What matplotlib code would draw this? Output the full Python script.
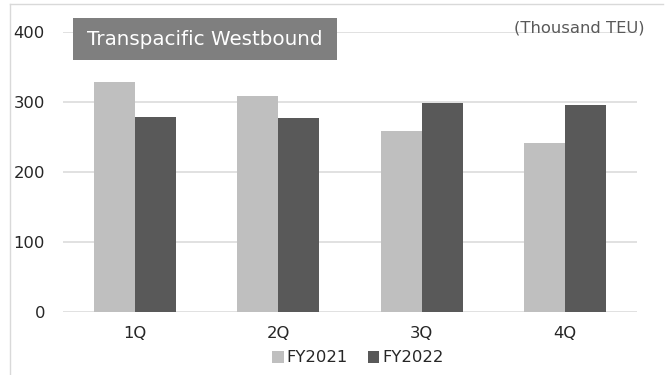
import matplotlib
matplotlib.use("Agg")
import matplotlib.pyplot as plt
from matplotlib.patches import Rectangle, Patch
from matplotlib.lines import Line2D
import numpy as np

categories = ["1Q", "2Q", "3Q", "4Q"]
fy2021 = [328, 309, 258, 241]
fy2022 = [278, 277, 298, 295]
series_labels = ["FY2021", "FY2022"]
yticks = [0, 100, 200, 300, 400]

W, H = 667, 375
fig = plt.figure(figsize=(W / 100, H / 100), dpi=100)
fig.patch.set_facecolor("white")

# plot area in pixel coordinates
x0, x1 = 63, 637
y_bottom, y_top = 311.7, 32
ax = fig.add_axes([x0 / W, 1 - y_bottom / H, (x1 - x0) / W, (y_bottom - y_top) / H])

c21, c22 = "#BFBFBF", "#595959"
grid_c = "#D9D9D9"
x = np.arange(len(categories))
bw = 0.286

ax.set_xlim(-0.5, len(categories) - 0.5)
ax.set_ylim(0, 400)
for t in yticks:
    ax.axhline(t, color=grid_c, lw=1.1, zorder=0)

ax.bar(x - bw / 2, fy2021, width=bw, color=c21, zorder=2)
ax.bar(x + bw / 2, fy2022, width=bw, color=c22, zorder=2)

for s in ax.spines.values():
    s.set_visible(False)
ax.set_yticks(yticks)
ax.set_xticks(x)
ax.set_xticklabels(categories)
ax.tick_params(axis="y", length=0, pad=13, labelsize=11.8, labelcolor="#262626")
ax.tick_params(axis="x", length=0, pad=10, labelsize=11.8, labelcolor="#262626")

# chart frame (top and left edges)
fig.add_artist(Line2D([10 / W, 663 / W], [1 - 4 / H, 1 - 4 / H], transform=fig.transFigure,
                      color="#D9D9D9", lw=1))
fig.add_artist(Line2D([10 / W, 10 / W], [1 - 4 / H, 0], transform=fig.transFigure,
                      color="#D9D9D9", lw=1))

# title box
bx0, bx1, by0, by1 = 72.7, 336.7, 18.3, 60
fig.add_artist(Rectangle((bx0 / W, 1 - by1 / H), (bx1 - bx0) / W, (by1 - by0) / H,
                         transform=fig.transFigure, facecolor="#7F7F7F", edgecolor="none", zorder=5))
fig.text((bx0 + bx1) / 2 / W, 1 - (by0 + by1) / 2 / H, "Transpacific Westbound",
         color="white", fontsize=14.3, ha="center", va="center", zorder=6)

fig.text(645 / W, 1 - 28 / H, "(Thousand TEU)", color="#595959", fontsize=11.8,
         ha="right", va="center")

handles = [Patch(facecolor=c21), Patch(facecolor=c22)]
fig.legend(handles, series_labels, loc="center", bbox_to_anchor=(358 / W, 1 - 358 / H),
           ncol=2, frameon=False, fontsize=11.8, handlelength=0.7, handleheight=0.7,
           handletextpad=0.2, columnspacing=1.2, labelcolor="#262626")

fig.savefig("out.png", dpi=100, facecolor="white")
